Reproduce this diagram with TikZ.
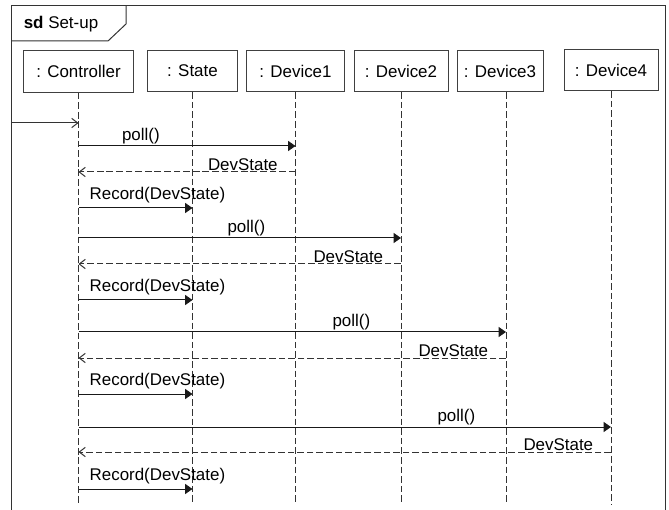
\documentclass[tikz,border=0pt]{standalone}
\usepackage{fontspec}
\setmainfont{Liberation Sans}
\usetikzlibrary{arrows.meta,calc}

\begin{document}
\begin{tikzpicture}[x=0.75pt,y=-0.75pt,line width=0.75pt]
    % `object' is the head box of a lifeline, `lifeline' its dashed stem.
    % `call' is a synchronous message, `reply' the dashed answer.
    % `msgtext' is used for every text of the frame.
    \tikzstyle{msgtext} = [font=\fontsize{12.7}{15}\selectfont,inner sep=1pt]
    \tikzstyle{object} = [msgtext,draw=black!75,fill=white,minimum height=31pt,inner sep=0pt]
    \tikzstyle{lifeline} = [draw=black!80,dash pattern=on 5pt off 2.2pt]
    \tikzstyle{call} = [draw=black!90,-{Triangle[length=5.5pt,width=7.5pt]}]
    \tikzstyle{reply} = [draw=black!80,dash pattern=on 5pt off 2.2pt,-{Straight Barb[length=4.5pt,width=7pt]}]
    \tikzstyle{found} = [draw=black!80,-{Straight Barb[length=4.5pt,width=7pt]}]
    %
    \useasboundingbox (0,0) rectangle (669,510);
    % Frame and its tab.
    \draw[black!80] (11,510) -- (11,6) -- (665,6) -- (665,510);
    \draw[black!80] (11,41) -- (108,41) -- (126,24) -- (126,6);
    \node[msgtext] (title) at (61,24) {\textbf{sd} Set-up};
    % Objects.
    \node[object,minimum width=83pt] (ctrl) at (78.5,71.5) {: Controller};
    \node[object,minimum width=67pt] (state) at (192.5,71) {: State};
    \node[object,minimum width=73pt] (dev1) at (295.5,71) {: Device1};
    \node[object,minimum width=70.5pt] (dev2) at (401,71) {: Device2};
    \node[object,minimum width=64.5pt] (dev3) at (500,71) {: Device3};
    \node[object,minimum width=70.5pt] (dev4) at (611,70) {: Device4};
    \coordinate (lc) at (ctrl.south);
    \coordinate (ls) at (state.south);
    \coordinate (l1) at (dev1.south);
    \coordinate (l2) at (dev2.south);
    \coordinate (l3) at ([xshift=4.5pt]dev3.south);
    \coordinate (l4) at (dev4.south);
    % Lifelines.
    \foreach \l in {lc,ls,l1,l2,l3,l4}
        \draw[lifeline] (\l) -- (\l |- 0,504);
    % Found message.
    \coordinate (start) at (11,123);
    \draw[found] (start) -- (lc |- start);
    % One poll, its answer and the record for each device.
    \foreach \d/\p/\r/\s in {1/146/172/208, 2/238/264/300, 3/332/358/394, 4/427/452/489} {
        \draw[call] (lc |- 0,\p) -- (l\d |- 0,\p)
            node[msgtext,anchor=south,xshift=-116pt] {poll()};
        \draw[reply] (l\d |- 0,\r) -- (lc |- 0,\r);
        \node[msgtext,anchor=south east,xshift=-12pt] at (l\d |- 0,\r) {DevState};
        \draw[call] (lc |- 0,\s) -- (ls |- 0,\s);
        \node[msgtext,anchor=south west,xshift=7pt,yshift=2.5pt] at (lc |- 0,\s) {Record(DevState)};
    }
\end{tikzpicture}
\end{document}
